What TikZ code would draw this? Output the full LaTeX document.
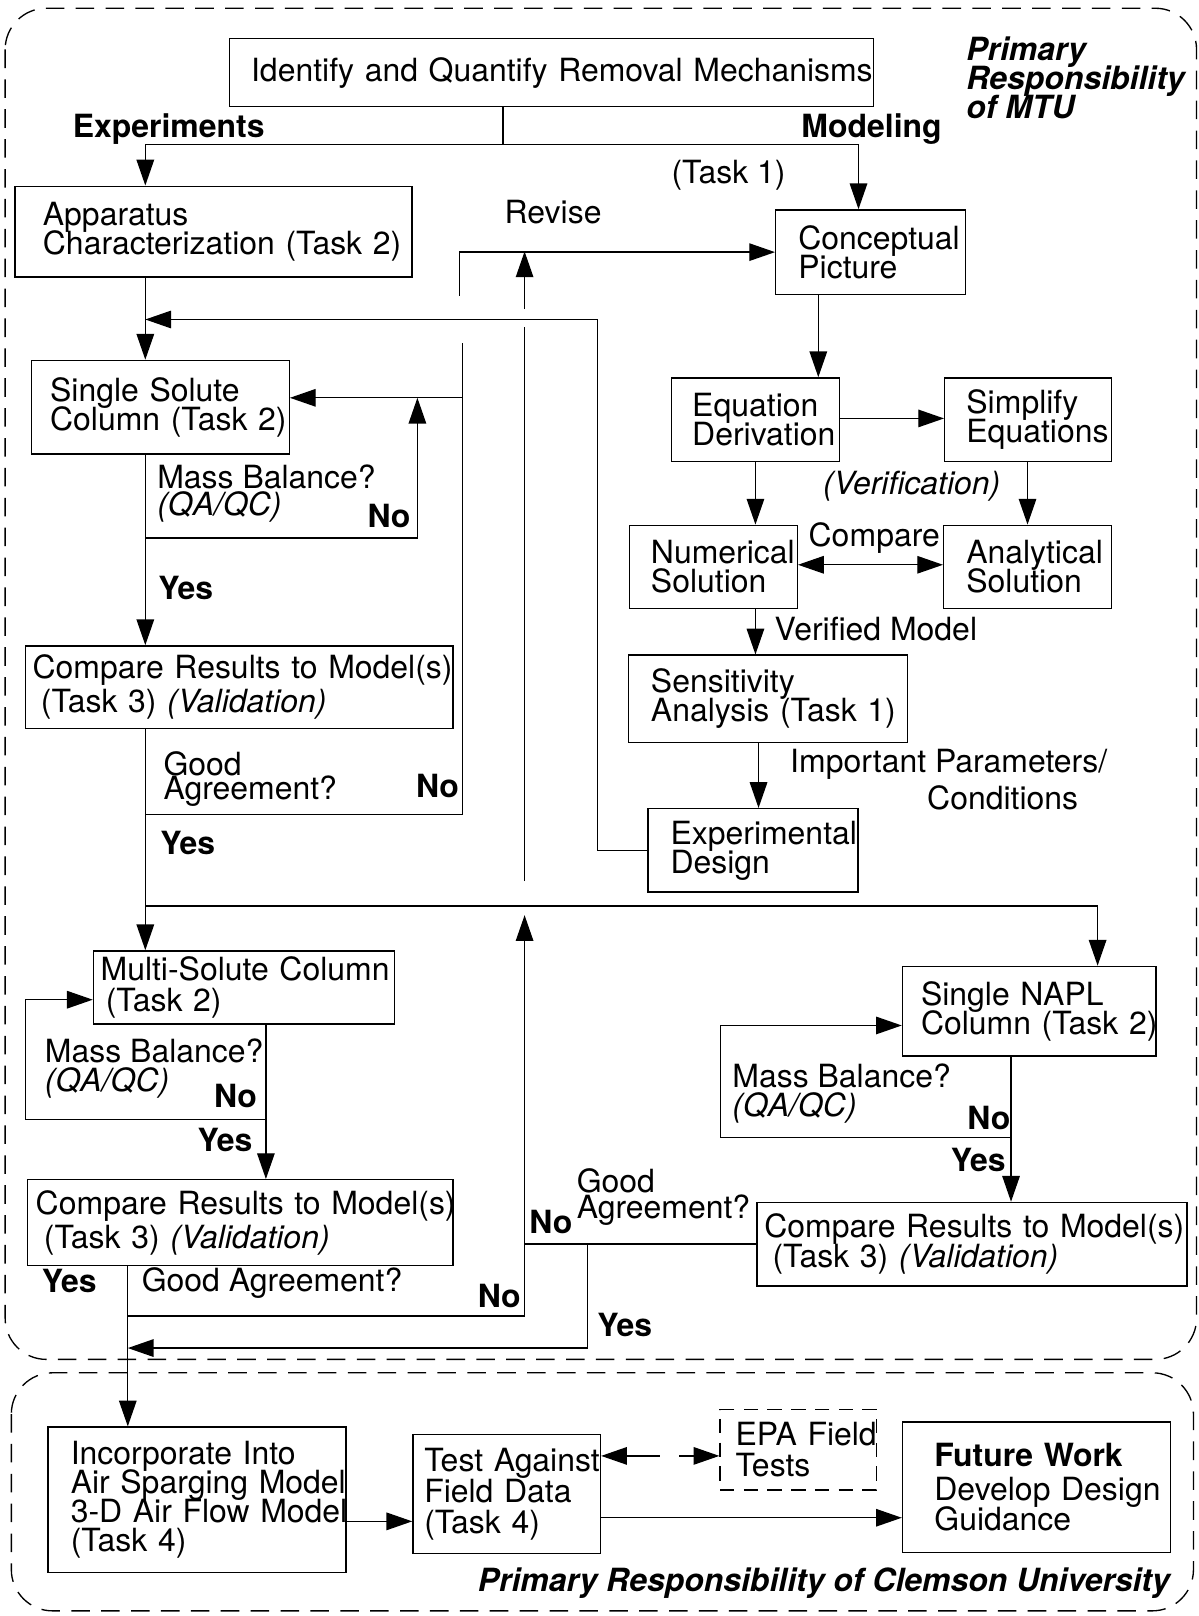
\documentclass[tikz,border=0pt]{standalone}
\usepackage{fontspec}
\setmainfont{TeX Gyre Heros}
\usepackage{tikz}
\usetikzlibrary{arrows.meta}
\setlength{\lineskiplimit}{-60pt}

\begin{document}
\begin{tikzpicture}[
    x = 1pt, y = -1pt,
    line width = 1.3pt,
    >={Triangle[length=25pt, width=17pt]},
    every node/.style = {font=\fontsize{31}{28}\selectfont},
    stage/.style n args = {3}{draw, rectangle, anchor=north west, align=left,
      inner xsep=0pt, inner ysep=0pt, text width=#1pt, minimum height=#2pt,
      execute at begin node={\baselineskip=28pt\lineskiplimit=-60pt
        \leftskip=#3pt\rightskip=-40pt plus 1fil}},
    lbl/.style = {anchor=base west, inner sep=0pt, align=left},
    region/.style = {dash pattern=on 18pt off 11pt, rounded corners=40pt},
  ]
    \useasboundingbox (0,0) rectangle (1163,1568);

    \draw[region] (5,8) rectangle (1161,1319);
    \draw[region] (11,1332) rectangle (1158,1563);

    \node[stage={625}{66}{21}] (ID) at (222,37) {Identify and Quantify Removal Mechanisms};
    \node[stage={385}{88}{27}] (AC) at (14,180) {Apparatus\\Characterization (Task 2)};
    \node[stage={184}{82}{22}] (CP) at (752,203) {Conceptual\\Picture};
    \node[stage={250}{91}{18}] (SS) at (30,349) {Single Solute\\Column (Task 2)};
    \node[stage={415}{80}{7}] (CR1) at (24,626) {Compare Results to Model(s)\\[5pt]\hspace*{8pt}(Task 3) \textit{(Validation)}};
    \node[stage={163}{81}{20}] (EQ) at (651,366) {Equation\\Derivation};
    \node[stage={162}{81}{21}] (SE) at (916,366) {Simplify\\Equations};
    \node[stage={163}{81}{21}] (NS) at (610,509) {Numerical\\Solution};
    \node[stage={163}{81}{22}] (AS) at (915,509) {Analytical\\Solution};
    \node[stage={271}{85}{22}] (SA) at (609,635) {Sensitivity\\Analysis (Task 1)};
    \node[stage={204}{81}{22}] (ED) at (628,784) {Experimental\\Design};
    \node[stage={292}{71}{7}] (MS) at (90,922) {Multi-Solute Column\\[2pt]\hspace*{5pt}(Task 2)};
    \node[stage={413}{83}{8}] (CR2) at (26,1144) {Compare Results to Model(s)\\[5pt]\hspace*{8pt}(Task 3) \textit{(Validation)}};
    \node[stage={246}{87}{18}] (NP) at (875,937) {Single NAPL\\Column (Task 2)};
    \node[stage={417}{81}{7}] (CR3) at (734,1166) {Compare Results to Model(s)\\[1pt]\hspace*{8pt}(Task 3) \textit{(Validation)}};
    \node[stage={289}{141}{22}] (IN) at (46,1384) {Incorporate Into\\Air Sparging Model\\3-D Air Flow Model\\(Task 4)};
    \node[stage={182}{116}{11}] (TA) at (400,1391) {Test Against\\[2pt]Field Data\\[2pt](Task 4)};
    \node[stage={152}{78}{15}, dash pattern=on 14pt off 9pt] (EPA) at (698,1367) {EPA Field\\[2pt]Tests};
    \node[stage={260}{127}{31}] (FW) at (875,1379) {\textbf{Future Work}\\[5pt]Develop Design\\[1pt]Guidance};

    \node[lbl] (expt) at (70,133) {\textbf{Experiments}};
    \node[lbl] (modg) at (777,133) {\textbf{Modeling}};
    \node[lbl] (task1) at (651,178) {(Task 1)};
    \node[lbl, font=\fontsize{31}{28}\selectfont\bfseries\itshape] (mtu) at (937,115) {Primary\\Responsibility\\of MTU};
    \node[lbl] (revise) at (489,217) {Revise};
    \node[lbl] (mbq1) at (152,500) {Mass Balance?\\[-2pt]\textit{(QA/QC)}};
    \node[lbl] (no1) at (356,512) {\textbf{No}};
    \node[lbl] (yes1) at (153,582) {\textbf{Yes}};
    \node[lbl] (gaq1) at (158,776) {Good\\[-4pt]Agreement?};
    \node[lbl] (no2) at (403,774) {\textbf{No}};
    \node[lbl] (yes2) at (155,829) {\textbf{Yes}};
    \node[lbl] (verif) at (798,480) {\textit{(Verification)}};
    \node[lbl] (cmp) at (784,530) {Compare};
    \node[lbl] (vmod) at (751,621) {Verified Model};
    \node[lbl] (imp) at (766,785) {Important Parameters/\\[7pt]\hspace*{133pt}Conditions};
    \node[lbl] (mbq2) at (43,1059) {Mass Balance?\\\textit{(QA/QC)}};
    \node[lbl] (no3) at (207,1075) {\textbf{No}};
    \node[lbl] (yes3) at (191,1117) {\textbf{Yes}};
    \node[lbl] (yes4) at (40,1254) {\textbf{Yes}};
    \node[lbl] (gaq2) at (137,1253) {Good Agreement?};
    \node[lbl] (no4) at (463,1269) {\textbf{No}};
    \node[lbl] (no5) at (513,1197) {\textbf{No}};
    \node[lbl] (gaq3) at (559,1182) {Good\\[-3pt]Agreement?};
    \node[lbl] (yes5) at (579,1297) {\textbf{Yes}};
    \node[lbl] (mbq3) at (710,1083) {Mass Balance?\\\textit{(QA/QC)}};
    \node[lbl] (no6) at (938,1096) {\textbf{No}};
    \node[lbl] (yes6) at (922,1137) {\textbf{Yes}};
    \node[lbl, font=\fontsize{31}{28}\selectfont\bfseries\itshape] (cu) at (463,1544) {Primary Responsibility of Clemson University};

    \coordinate (split) at (488,140);
    \coordinate (expl) at (141,140);
    \coordinate (modl) at (833,140);
    \coordinate (mb1) at (141,522);
    \coordinate (mb1u) at (405,386);
    \coordinate (ga1) at (141,790);
    \coordinate (ga1u) at (449,333);
    \coordinate (ss1) at (449,386);
    \coordinate (rev) at (446,287);
    \coordinate (fbk) at (580,310);
    \coordinate (up1) at (509,855);
    \coordinate (up1g) at (509,317);
    \coordinate (up1h) at (509,300);
    \coordinate (up1t) at (509,244);
    \coordinate (hb) at (141,879);
    \coordinate (npl) at (1065,879);
    \coordinate (mb2) at (258,1086);
    \coordinate (mb2u) at (25,970);
    \coordinate (ga2) at (124,1277);
    \coordinate (up2) at (509,888);
    \coordinate (mb3) at (981,1104);
    \coordinate (mb3u) at (699,995);
    \coordinate (ga3y) at (570,1207);
    \coordinate (yes3c) at (124,1308);

    \draw (ID.south -| split) -- (split);
    \draw[->] (split) -- (expl) -- (expl |- AC.north);
    \draw[->] (split) -- (modl) -- (modl |- CP.north);
    \draw[->] (expl |- AC.south) -- (expl |- SS.north);
    \draw[->] (expl |- SS.south) -- (expl |- CR1.north);
    \draw[->] (mb1) -| (mb1u);
    \draw (ga1) -| (ga1u);
    \draw[->] (ss1) -- (ss1 -| SS.east);
    \draw[->] (rev) |- (CP.west);
    \draw[->] (ED.west) -| (fbk) -- (fbk -| expl);
    \draw (up1) -- (up1g);
    \draw[->] (up1h) -- (up1t);
    \draw[->] (CP.south -| 794,0) -- (EQ.north -| 794,0);
    \draw[->] (EQ.east |- 0,406) -- (SE.west |- 0,406);
    \draw[->] (EQ.south -| 733,0) -- (NS.north -| 733,0);
    \draw[->] (SE.south -| 997,0) -- (AS.north -| 997,0);
    \draw[<->] (NS.east |- 0,548) -- (AS.west |- 0,548);
    \draw[->] (NS.south -| 733,0) -- (SA.north -| 733,0);
    \draw[->] (SA.south -| 736,0) -- (ED.north -| 736,0);

    \draw[->] (expl |- CR1.south) -- (expl |- MS.north);
    \draw[->] (hb) -- (npl) -- (npl |- NP.north);
    \draw[->] (mb2 |- MS.south) -- (mb2 |- CR2.north);
    \draw[->] (mb2) -| (mb2u) -- (mb2u -| MS.west);
    \draw[->] (ga2 |- CR2.south) -- (ga2 |- IN.north);
    \draw[->] (ga2) -| (up2);
    \draw[->] (mb3 |- NP.south) -- (mb3 |- CR3.north);
    \draw[->] (mb3) -| (mb3u) -- (mb3u -| NP.west);
    \draw (CR3.west) -- (CR3.west -| up2);
    \draw[->] (ga3y) |- (yes3c);

    \draw[->] ([yshift=-21pt]IN.east) -- ([yshift=-21pt]IN.east -| TA.west);
    \draw[<->, dash pattern=on 32pt off 19pt] ([yshift=37pt]TA.east) -- ([yshift=37pt]TA.east -| EPA.west);
    \draw[->] ([yshift=-23pt]TA.east) -- ([yshift=-23pt]TA.east -| FW.west);
\end{tikzpicture}
\end{document}
